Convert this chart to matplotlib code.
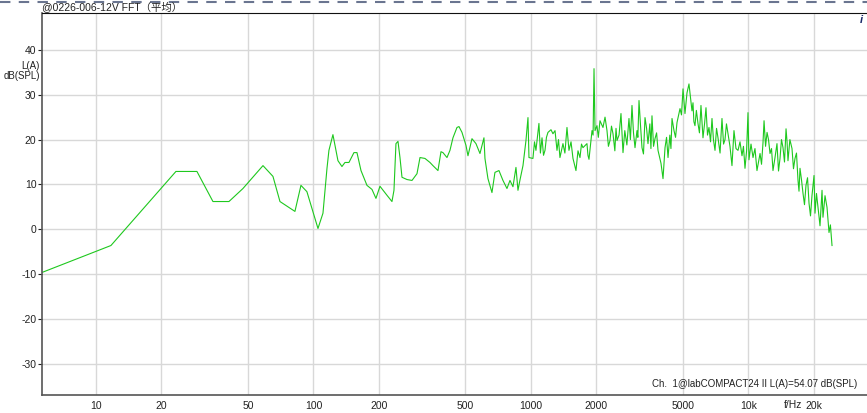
import matplotlib
matplotlib.use("Agg")
import matplotlib.pyplot as plt
from matplotlib.ticker import FixedLocator, NullLocator

# values (Hz, dB)
freq_hz = [5.65, 11.72, 23.32, 29.13, 34.51, 40.88, 47.41, 58.61, 65.14, 70.15,
           82.2, 87.6, 93.3, 104.9, 110.6, 115.4, 117.8, 122.9, 129.6, 135.2,
           139.6, 145.6, 153.5, 158.5, 165.4, 176.2, 185.8, 193.8, 202.2, 217.7,
           229.6, 234.5, 239.5, 244.7, 249.9, 255.3, 269.2, 283.8, 299.2, 308.9,
           325.6, 343.3, 354.3, 373.6, 385.7, 393.9, 411.0, 424.2, 437.9, 456.9,
           466.7, 481.8, 502.6, 513.3, 535.5, 558.6, 582.8, 607.9, 614.4, 634.2,
           661.7, 683.0, 712.6, 743.4, 775.6, 800.6, 826.4, 853.1, 871.4, 890.1,
           918.8, 948.4, 968.8, 979.0,
           1021, 1038, 1054, 1088, 1105, 1124, 1142, 1160, 1178, 1197,
           1236, 1262, 1290, 1317, 1338, 1359, 1403, 1432, 1464, 1495,
           1528, 1560, 1610, 1645, 1680, 1707, 1734, 1809, 1828, 1848,
           1908, 1930, 1949, 1970, 2011, 2040, 2076, 2143, 2190, 2236,
           2270, 2308, 2345, 2383, 2430, 2460, 2486, 2540, 2593, 2649,
           2700, 2760, 2822, 2865, 2913, 2960, 3008, 3072, 3100, 3138,
           3190, 3239, 3290, 3344, 3400, 3451, 3520, 3560, 3600, 3660,
           3717, 3780, 3837, 3961, 4046, 4133, 4200, 4266, 4350, 4400,
           4450, 4545, 4620, 4692, 4843, 4920, 5000, 5105, 5215, 5326,
           5498, 5557, 5610, 5675, 5760, 5858, 5950, 6047, 6177, 6280,
           6377, 6480, 6582, 6690, 6795, 6900, 7015, 7130, 7241, 7400,
           7553, 7680, 7798, 7920, 8049, 8220, 8396, 8576, 8760, 8950,
           9140, 9335, 9480, 9636, 9800, 9947, 10050, 10270, 10490, 10710,
           10940, 11120, 11300, 11480, 11660, 11790, 11980, 12170, 12360, 12560,
           12760, 12960, 13240, 13520, 13740, 13960, 14180, 14410, 14640, 14880,
           15040, 15190, 15500, 15850, 16100, 16360, 16620, 16890, 17070, 17250,
           17530, 17810, 18090, 18380, 18680, 18980, 19280, 19590, 20010, 20220,
           20540, 20870, 21320, 21780, 22000, 22480, 22960, 23200, 23450, 23800,
           24210]
level_db = [-9.6, -3.6, 12.9, 12.9, 6.2, 6.2, 9.1, 14.2, 11.8, 6.2,
            4.0, 9.8, 8.4, 0.2, 3.6, 13.6, 17.6, 21.1, 15.3, 14.0,
            14.9, 14.9, 17.1, 17.1, 13.1, 9.8, 8.9, 6.9, 9.6, 7.6,
            6.2, 8.7, 19.1, 19.6, 16.0, 11.6, 11.1, 10.9, 12.4, 16.0,
            15.8, 14.9, 14.2, 13.1, 17.3, 17.1, 16.0, 17.6, 20.4, 22.7,
            22.9, 21.6, 18.7, 16.4, 20.2, 19.1, 16.9, 20.4, 15.8, 11.3,
            8.2, 12.7, 13.1, 10.9, 9.1, 10.9, 9.5, 13.8, 8.7, 11.0,
            14.2, 19.8, 24.9, 16.0,
            15.8, 19.5, 17.6, 23.6, 17.0, 20.4, 16.5, 17.6, 20.5, 21.6,
            22.2, 21.3, 22.0, 17.6, 20.0, 16.0, 19.1, 17.0, 22.7, 17.6,
            19.5, 15.8, 13.1, 17.5, 16.0, 19.0, 18.2, 19.1, 16.5, 15.6,
            22.0, 21.0, 35.8, 22.0, 23.1, 20.5, 24.2, 22.7, 25.0, 22.0,
            18.5, 19.8, 23.0, 21.3, 17.5, 22.5, 19.8, 21.0, 25.8, 17.1,
            22.0, 18.8, 24.7, 20.0, 27.6, 21.5, 18.2, 22.0, 20.5, 28.7,
            23.0, 18.2, 16.8, 24.9, 22.5, 19.1, 23.5, 18.0, 25.3, 18.5,
            20.2, 21.5, 17.6, 14.7, 11.3, 18.2, 20.5, 16.0, 21.0, 18.0,
            24.7, 22.0, 20.5, 23.8, 26.9, 25.5, 31.3, 25.8, 30.4, 32.4,
            26.4, 28.2, 24.0, 23.1, 26.5, 23.6, 21.5, 27.6, 20.4, 23.5,
            27.1, 21.0, 22.7, 19.5, 24.7, 20.0, 17.6, 22.5, 20.4, 17.0,
            24.7, 19.0, 20.0, 23.5, 21.3, 18.5, 14.2, 22.0, 18.0, 17.6,
            19.5, 16.4, 18.5, 13.6, 17.5, 26.0, 15.5, 19.0, 16.0, 18.0,
            13.1, 15.0, 16.9, 14.5, 19.3, 24.2, 18.5, 21.6, 20.0, 16.9,
            18.0, 13.1, 16.0, 19.1, 13.0, 15.8, 20.0, 18.2, 15.0, 22.4,
            19.5, 15.3, 20.0, 18.0, 13.5, 15.8, 17.0, 10.9, 8.5, 13.6,
            11.0, 8.0, 5.5, 9.8, 11.5, 5.8, 3.0, 7.6, 12.0, 3.6,
            8.0, 4.9, 0.8, 8.7, 2.7, 7.5, 4.9, 2.0, -0.7, 1.0,
            -3.6]

x_ticks = [10, 20, 50, 100, 200, 500, 1000, 2000, 5000, 10000, 20000]
x_tick_labels = ['10', '20', '50', '100', '200', '500', '1000', '2000', '5000', '10k', '20k']
y_ticks = [-30, -20, -10, 0, 10, 20, 30, 40]

plt.rcParams['font.family'] = ['Liberation Sans', 'Noto Sans CJK SC', 'DejaVu Sans']
plt.rcParams['axes.unicode_minus'] = False

fig = plt.figure(figsize=(8.67, 4.13), dpi=100)
ax = fig.add_axes([42 / 867, 1 - 395 / 413, 1 - 42 / 867, (395 - 13) / 413])

ax.plot(freq_hz, level_db, color='#1ec81e', linewidth=0.8)

ax.set_xscale('log')
ax.set_xlim(5.65, 35060)
ax.set_ylim(-36.9, 48.2)

ax.xaxis.set_major_locator(FixedLocator(x_ticks))
ax.xaxis.set_minor_locator(NullLocator())
ax.set_xticklabels(x_tick_labels)
ax.set_yticks(y_ticks)
ax.tick_params(axis='x', length=0, pad=4, labelsize=7.5, colors='#222222')
ax.tick_params(axis='y', length=3, width=0.8, pad=1, labelsize=7.5, colors='#222222')

ax.grid(True, color='#d8d8d8', linewidth=1)
ax.set_axisbelow(True)

ax.spines['right'].set_visible(False)
ax.spines['top'].set_color('#111111')
ax.spines['left'].set_color('#555555')
ax.spines['bottom'].set_color('#555555')
ax.spines['left'].set_linewidth(1.2)
ax.spines['bottom'].set_linewidth(1.2)

# top dashed band
fig.add_artist(plt.Line2D([0, 1], [1 - 2 / 413, 1 - 2 / 413], color='#6a7590',
                          linewidth=1.5, linestyle=(0, (5, 4))))

fig.text(42 / 867, 1 - 7 / 413, '@0226-006-12V FFT（平均）', fontsize=7.5,
         va='center', ha='left', color='#222222')
fig.text(40 / 867, 1 - 66 / 413, 'L(A)', fontsize=7, ha='right', va='center', color='#222222')
fig.text(40 / 867, 1 - 76 / 413, 'dB(SPL)', fontsize=7, ha='right', va='center', color='#222222')
fig.text(857 / 867, 1 - 384 / 413, 'Ch.  1@labCOMPACT24 II L(A)=54.07 dB(SPL)', fontsize=7,
         ha='right', va='center', color='#222222')
fig.text(793 / 867, 1 - 405 / 413, 'f/Hz', fontsize=7.5, ha='center', va='center', color='#222222')
fig.text(861 / 867, 1 - 20 / 413, 'i', fontsize=8, ha='center', va='center',
         color='#1a2a6a', fontweight='bold', style='italic')

fig.savefig('out.png', dpi=100)
